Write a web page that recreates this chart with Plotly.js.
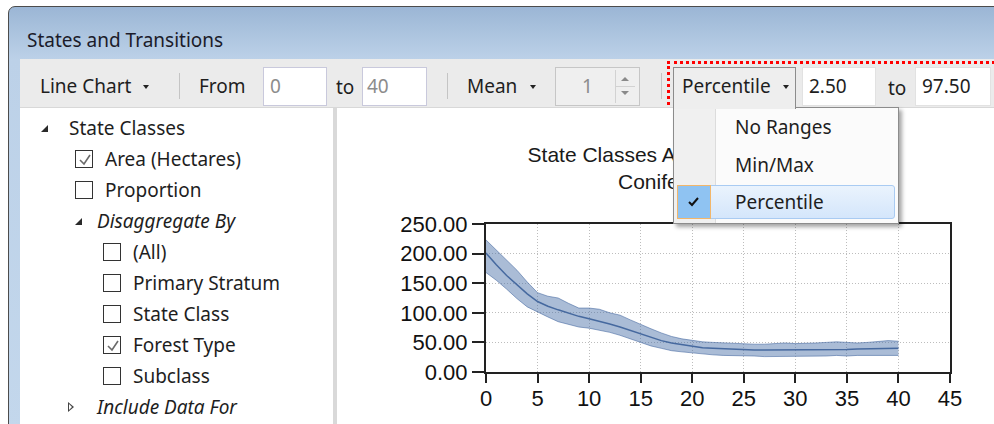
<!DOCTYPE html>
<html><head><meta charset="utf-8">
<script src="https://cdn.plot.ly/plotly-3.0.1.min.js"></script>
<style>
html,body{margin:0;padding:0}
body{width:994px;height:424px;overflow:hidden;background:#fff;font-family:"Noto Sans",sans-serif;color:#1e1e1e;position:relative}
.a{position:absolute;white-space:nowrap}
.t{font-size:19px;line-height:22px;height:22px}
.inp{position:absolute;background:#fff;border:1px solid #c9c9dc;box-sizing:border-box}
.sep{position:absolute;width:1px;height:26px;top:73px;background:#c4c4c4}
.dd{position:absolute;width:0;height:0;border-left:3.5px solid transparent;border-right:3.5px solid transparent;border-top:4px solid #222}
.cb{position:absolute;width:18px;height:18px;border:1px solid #333;background:#fff;box-sizing:border-box}
.cb svg{position:absolute;left:1px;top:1px}
.tri{position:absolute;width:0;height:0;border-left:7px solid transparent;border-bottom:7px solid #2a2a2a}
</style></head>
<body>
<!-- window frame -->
<div class="a" style="left:8px;top:6px;width:1000px;height:430px;border:1px solid #4c4c4c;border-top-left-radius:7px;background:linear-gradient(to bottom,#9bb6d5 0px,#bcd1e8 52px,#c3d7ec 100%);box-sizing:border-box"></div>
<div class="a t" style="left:27px;top:29px;color:#1b1b2a">States and Transitions</div>
<!-- toolbar -->
<div class="a" style="left:20px;top:59px;width:980px;height:49px;background:#ebebeb;border-bottom:1px solid #d8d8d8;box-sizing:border-box"></div>
<div class="a t" style="left:40px;top:75px">Line Chart</div>
<div class="dd" style="left:143px;top:85px"></div>
<div class="sep" style="left:179px"></div>
<div class="a t" style="left:199px;top:75px">From</div>
<div class="inp" style="left:263px;top:67px;width:64px;height:39px"></div>
<div class="a t" style="left:270px;top:75px;color:#8c8c8c">0</div>
<div class="a t" style="left:336px;top:76px">to</div>
<div class="inp" style="left:362px;top:67px;width:65px;height:39px"></div>
<div class="a t" style="left:367px;top:75px;color:#8c8c8c">40</div>
<div class="sep" style="left:447px"></div>
<div class="a t" style="left:467px;top:75px">Mean</div>
<div class="dd" style="left:530px;top:85px"></div>
<div class="inp" style="left:555px;top:67px;width:85px;height:39px;background:#efefef;border-color:#c6c6c6"></div>
<div class="a t" style="left:582px;top:75px;color:#8c8c8c">1</div>
<div class="a" style="left:615px;top:70px;width:21px;height:33px;border-left:1px solid #d2d2d2"></div>
<div class="a" style="left:621px;top:77px;width:0;height:0;border-left:4px solid transparent;border-right:4px solid transparent;border-bottom:4px solid #8a8a8a"></div>
<div class="a" style="left:616px;top:86px;width:19px;height:1px;background:#d2d2d2"></div>
<div class="a" style="left:621px;top:91px;width:0;height:0;border-left:4px solid transparent;border-right:4px solid transparent;border-top:4px solid #8a8a8a"></div>
<div class="sep" style="left:661px"></div>
<!-- red dotted highlight -->
<div class="a" style="left:667px;top:61px;width:340px;height:50px;border:3px dotted #f00;box-sizing:border-box"></div>
<div class="inp" style="left:802px;top:67px;width:74px;height:39px;border-color:#e2e2e2"></div>
<div class="a t" style="left:809px;top:75px">2.50</div>
<div class="a t" style="left:888px;top:77px">to</div>
<div class="inp" style="left:915px;top:67px;width:76px;height:39px;border-color:#e2e2e2"></div>
<div class="a t" style="left:922px;top:75px">97.50</div>
<!-- left panel -->
<div class="a" style="left:20px;top:108px;width:313px;height:316px;background:#fff"></div>
<div class="a" style="left:333px;top:108px;width:4px;height:316px;background:#d9d9d9"></div>
<div class="tri" style="left:41px;top:125px"></div>
<div class="a t" style="left:69px;top:117px">State Classes</div>
<div class="cb" style="left:75px;top:150px"><svg width="16" height="16"><polyline points="3,8 7,12 13,3" fill="none" stroke="#6a6a6a" stroke-width="1.6"/></svg></div>
<div class="a t" style="left:105px;top:148px">Area (Hectares)</div>
<div class="cb" style="left:75px;top:181px"></div>
<div class="a t" style="left:105px;top:179px">Proportion</div>
<div class="tri" style="left:75px;top:218px"></div>
<div class="a t" style="left:97px;top:210px;font-style:italic">Disaggregate By</div>
<div class="cb" style="left:103px;top:243px"></div>
<div class="a t" style="left:133px;top:241px">(All)</div>
<div class="cb" style="left:103px;top:274px"></div>
<div class="a t" style="left:133px;top:272px">Primary Stratum</div>
<div class="cb" style="left:103px;top:305px"></div>
<div class="a t" style="left:133px;top:303px">State Class</div>
<div class="cb" style="left:103px;top:336px"><svg width="16" height="16"><polyline points="3,8 7,12 13,3" fill="none" stroke="#6a6a6a" stroke-width="1.6"/></svg></div>
<div class="a t" style="left:133px;top:334px">Forest Type</div>
<div class="cb" style="left:103px;top:367px"></div>
<div class="a t" style="left:133px;top:365px">Subclass</div>
<div class="a" style="left:68px;top:402px;width:0;height:0;border-top:5px solid transparent;border-bottom:5px solid transparent;border-left:6px solid #444"></div>
<div class="a" style="left:69px;top:404px;width:0;height:0;border-top:3px solid transparent;border-bottom:3px solid transparent;border-left:3px solid #fff"></div>
<div class="a t" style="left:97px;top:396px;font-style:italic">Include Data For</div>
<!-- chart -->
<div id="chart" class="a" style="left:337px;top:108px;width:657px;height:316px"></div>
<!-- dropdown menu overlay -->
<div class="a" style="left:673px;top:107px;width:226px;height:117px;background:#fbfbfb;border:1px solid #8c8c8c;box-sizing:border-box;box-shadow:3px 3px 4px rgba(0,0,0,0.35)"></div>
<div class="a" style="left:674px;top:108px;width:41px;height:115px;background:#f0f0f0;border-right:1px solid #dcdcdc"></div>
<div class="a" style="left:677px;top:185px;width:218px;height:34px;border:1px solid #a9cbf2;border-radius:3px;box-sizing:border-box;background:linear-gradient(to bottom,#eaf3fd,#d4e6fb)"></div>
<div class="a" style="left:677px;top:185px;width:34px;height:34px;border:1px solid #f2b66a;box-sizing:border-box;background:#8fc3f2"></div>
<svg class="a" style="left:686px;top:194px" width="16" height="16"><polyline points="3,8 6,11 12,4" fill="none" stroke="#111" stroke-width="2"/></svg>
<div class="a t" style="left:735px;top:116px">No Ranges</div>
<div class="a t" style="left:735px;top:154px">Min/Max</div>
<div class="a t" style="left:735px;top:191px">Percentile</div>
<!-- Percentile button (pressed) -->
<div class="a" style="left:673px;top:67px;width:123px;height:42px;background:#eeeeee;border:1px solid #8c8c8c;border-bottom:none;box-sizing:border-box"></div>
<div class="a t" style="left:682px;top:75px">Percentile</div>
<div class="dd" style="left:783px;top:85px"></div>
<script>
const years = [0,1,2,3,4,5,6,7,8,9,10,11,12,13,14,15,16,17,18,19,20,21,22,23,24,25,26,27,28,29,30,31,32,33,34,35,36,37,38,39,40];
const meanArea = [201,181,163,147,132,119,111,105,99,94,90,86,81,76,70,64,58,53,49,46,43,41,40,39,38,38,37,37,37,37,37,37,37,38,38,38,39,39,39,40,40];
const upperArea = [223,206,190,172,152,134,128,125,116,108,108,106,100,96,88,80,73,66,60,56,53,51,50,49,48,48,47,47,48,49,48,48,49,50,51,50,49,50,51,53,52];
const lowerArea = [168,155,140,124,110,101,93,85,80,76,74,71,67,62,56,49,44,40,36,34,32,30,29,28,28,27,27,26,26,27,27,27,27,27,28,27,28,28,28,28,28];
const xTickVals = [0,5,10,15,20,25,30,35,40,45];
const yTickVals = [0,50,100,150,200,250];
const chartTitle = 'State Classes Area (Hectares)<br>Coniferous';

const fontFam = '"Liberation Sans", Arial, sans-serif';
const traces = [
  {x: years, y: lowerArea, mode: 'lines', line: {color: 'rgba(62,98,156,0.55)', width: 1}, hoverinfo: 'skip', showlegend: false},
  {x: years, y: upperArea, mode: 'lines', fill: 'tonexty', fillcolor: 'rgba(78,114,170,0.48)', line: {color: 'rgba(62,98,156,0.55)', width: 1}, showlegend: false},
  {x: years, y: meanArea, mode: 'lines', line: {color: '#46699f', width: 1.5}, showlegend: false}
];
const axisCommon = {
  showline: true, linewidth: 2, linecolor: '#222', mirror: true,
  ticks: 'outside', tickwidth: 2, tickcolor: '#222',
  showgrid: true, gridcolor: '#bdbdbd', gridwidth: 1, griddash: '1px,2px',
  zeroline: false, tickfont: {family: fontFam, size: 22, color: '#111'}
};
const layout = {
  width: 657, height: 316,
  margin: {l: 149, r: 44, t: 116, b: 52, pad: 0},
  paper_bgcolor: '#fff', plot_bgcolor: '#fff',
  title: {text: chartTitle, x: 0.505, xref: 'container', xanchor: 'center', y: 0.83, yref: 'container', yanchor: 'top', font: {family: fontFam, size: 21, color: '#1a1a1a'}},
  xaxis: Object.assign({}, axisCommon, {range: [0, 45], tickmode: 'array', tickvals: xTickVals, ticklen: 9, ticklabelstandoff: -3}),
  yaxis: Object.assign({}, axisCommon, {range: [0, 250], tickmode: 'array', tickvals: yTickVals, tickformat: '.2f', ticklen: 12}),
  showlegend: false
};
Plotly.newPlot('chart', traces, layout, {displayModeBar: false, staticPlot: true});
</script>
</body></html>
